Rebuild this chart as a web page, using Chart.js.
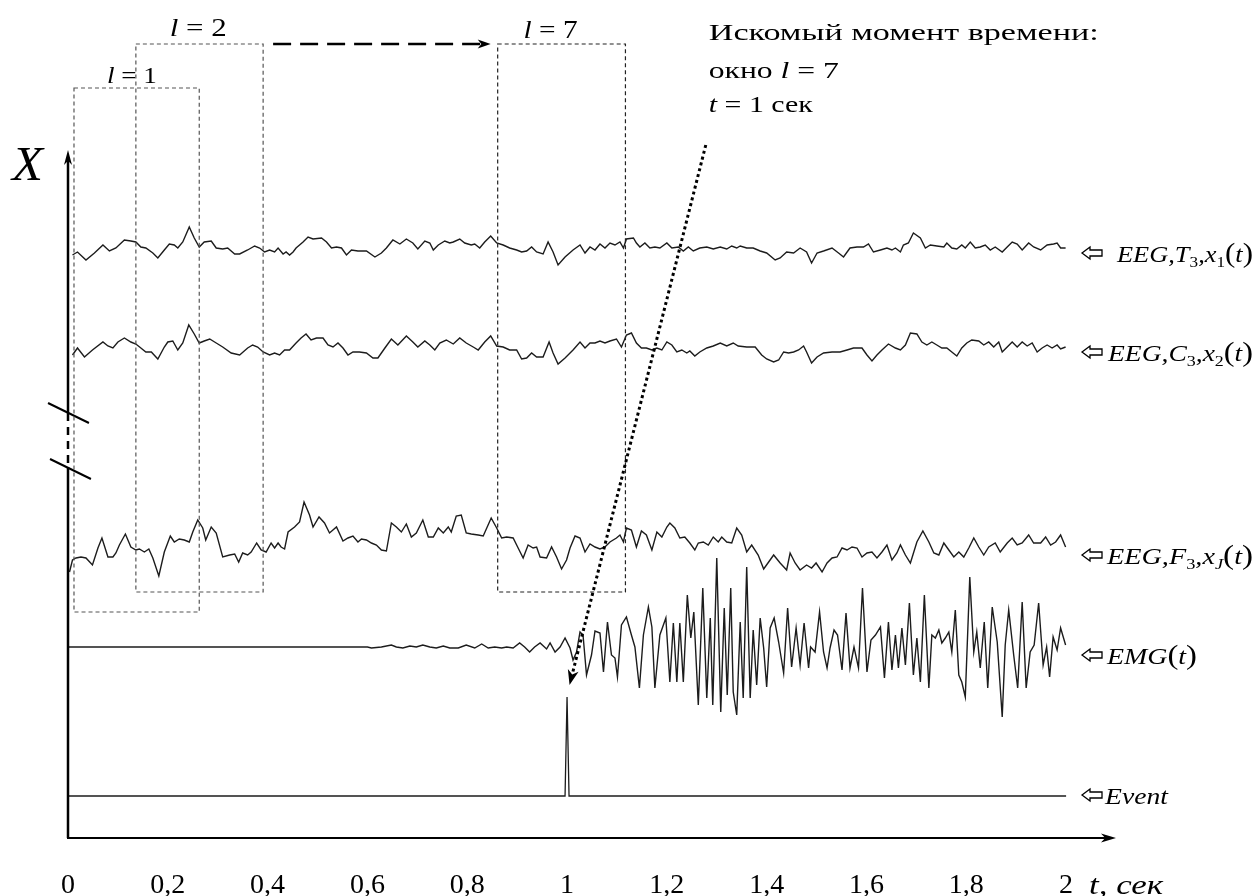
<!DOCTYPE html>
<html lang="ru">
<head>
<meta charset="utf-8">
<title>EEG / EMG</title>
<script src="https://cdn.jsdelivr.net/npm/chart.js@4/dist/chart.umd.min.js"></script>
<style>
html,body{margin:0;padding:0;background:#fff;overflow:hidden;}
canvas{display:block;}
</style>
</head>
<body>
<canvas id="chart" width="1258" height="896"></canvas>
<script>
// ---------------- data (time in s, amplitude in arbitrary units) ----------------
const xTickValues = [0, 0.2, 0.4, 0.6, 0.8, 1, 1.2, 1.4, 1.6, 1.8, 2];
const channelOffsets = [590, 490, 293, 191, 42]; // T3, C3, F3, EMG, Event

const eegT3 = [[0.009,-7],[0.019,-4],[0.036,-12],[0.053,-5],[0.070,3],[0.083,-3],[0.096,0],[0.113,8],[0.126,7],[0.136,6],[0.146,1],[0.156,0],[0.170,-5],[0.180,-10],[0.193,-2],[0.203,4],[0.213,3],[0.220,0],[0.230,6],[0.243,21],[0.253,10],[0.263,1],[0.273,6],[0.287,7],[0.297,0],[0.310,-1],[0.320,0],[0.334,-6],[0.344,-6],[0.360,-2],[0.374,2],[0.384,0],[0.394,-4],[0.404,-2],[0.414,-4],[0.421,0],[0.431,-6],[0.437,-4],[0.444,-7],[0.451,-4],[0.457,0],[0.464,3],[0.471,6],[0.481,11],[0.491,9],[0.508,10],[0.518,6],[0.528,0],[0.538,1],[0.548,0],[0.558,-7],[0.568,-2],[0.581,-3],[0.598,-3],[0.615,-9],[0.628,-5],[0.638,0],[0.651,8],[0.665,4],[0.678,9],[0.691,5],[0.701,-1],[0.715,7],[0.725,5],[0.732,-2],[0.742,3],[0.755,7],[0.765,5],[0.772,6],[0.785,9],[0.795,5],[0.808,3],[0.815,4],[0.825,0],[0.835,6],[0.847,12],[0.859,5],[0.872,3],[0.885,0],[0.899,-2],[0.909,-4],[0.919,-3],[0.929,1],[0.939,-4],[0.952,-6],[0.962,6],[0.972,-4],[0.982,-17],[0.996,-9],
[1.012,-2],[1.026,3],[1.036,-5],[1.046,1],[1.056,-2],[1.066,4],[1.076,0],[1.086,5],[1.096,3],[1.106,6],[1.113,0],[1.119,9],[1.133,10],[1.139,5],[1.146,1],[1.156,5],[1.166,0],[1.176,1],[1.186,0],[1.200,5],[1.210,0],[1.223,1],[1.233,-3],[1.243,1],[1.253,-3],[1.266,0],[1.280,1],[1.293,-1],[1.307,1],[1.320,-1],[1.330,2],[1.340,0],[1.347,2],[1.360,0],[1.373,0],[1.387,-3],[1.400,-5],[1.417,-12],[1.427,-10],[1.440,-4],[1.454,-5],[1.467,0],[1.480,-4],[1.490,-15],[1.501,-5],[1.514,-3],[1.531,0],[1.544,-5],[1.554,-9],[1.567,0],[1.581,1],[1.594,1],[1.604,4],[1.614,-4],[1.628,-2],[1.641,0],[1.651,-2],[1.658,0],[1.668,-4],[1.674,3],[1.684,5],[1.694,15],[1.708,10],[1.718,0],[1.728,3],[1.741,2],[1.755,1],[1.761,5],[1.771,0],[1.781,-1],[1.791,3],[1.798,0],[1.808,6],[1.818,0],[1.828,1],[1.838,3],[1.848,-2],[1.858,1],[1.872,-4],[1.882,1],[1.892,6],[1.902,4],[1.912,-2],[1.925,5],[1.935,1],[1.949,-2],[1.962,3],[1.975,4],[1.982,5],[1.989,0],[1.999,0]];

const eegC3 = [[0.009,-7],[0.019,0],[0.033,-9],[0.049,-2],[0.070,6],[0.080,2],[0.090,0],[0.100,6],[0.113,10],[0.126,6],[0.136,4],[0.146,0],[0.156,-4],[0.167,-4],[0.180,-11],[0.193,1],[0.200,6],[0.210,7],[0.220,-2],[0.230,5],[0.242,23],[0.253,14],[0.263,5],[0.273,7],[0.284,9],[0.297,5],[0.310,1],[0.327,-5],[0.344,-7],[0.360,0],[0.370,3],[0.380,1],[0.391,-4],[0.404,-7],[0.414,-5],[0.424,-7],[0.434,-2],[0.444,-2],[0.457,5],[0.467,10],[0.477,14],[0.487,8],[0.498,10],[0.511,10],[0.521,3],[0.531,1],[0.541,5],[0.551,0],[0.561,-7],[0.571,-4],[0.584,-4],[0.598,-5],[0.611,-10],[0.621,-10],[0.635,0],[0.648,9],[0.661,3],[0.678,12],[0.691,6],[0.701,1],[0.715,7],[0.725,3],[0.735,-2],[0.745,5],[0.758,8],[0.772,4],[0.785,10],[0.798,5],[0.812,1],[0.822,-2],[0.835,6],[0.847,12],[0.859,2],[0.872,1],[0.885,-2],[0.899,-2],[0.909,-11],[0.919,-10],[0.929,-5],[0.939,-9],[0.952,-9],[0.964,6],[0.972,-5],[0.982,-16],[0.996,-10],
[1.012,-2],[1.026,6],[1.036,0],[1.046,5],[1.056,5],[1.066,7],[1.076,5],[1.086,7],[1.099,9],[1.109,1],[1.119,13],[1.129,15],[1.139,5],[1.149,0],[1.159,0],[1.170,-2],[1.180,0],[1.190,-2],[1.200,6],[1.210,3],[1.220,-4],[1.230,-2],[1.240,-5],[1.246,-3],[1.256,-8],[1.266,-4],[1.280,0],[1.293,2],[1.307,5],[1.320,2],[1.333,5],[1.343,2],[1.360,1],[1.377,1],[1.390,-7],[1.400,-11],[1.414,-14],[1.424,-12],[1.434,-4],[1.444,-5],[1.454,-4],[1.464,-2],[1.474,2],[1.480,-4],[1.490,-15],[1.501,-9],[1.514,-5],[1.531,-4],[1.547,-4],[1.561,-2],[1.574,0],[1.591,0],[1.601,-7],[1.611,-13],[1.621,-7],[1.631,-2],[1.644,4],[1.658,0],[1.668,-2],[1.678,3],[1.688,15],[1.701,14],[1.711,6],[1.721,3],[1.731,6],[1.741,3],[1.751,0],[1.761,0],[1.771,-4],[1.781,-8],[1.791,0],[1.801,5],[1.811,8],[1.825,7],[1.835,3],[1.845,6],[1.855,1],[1.865,6],[1.872,-4],[1.882,1],[1.892,6],[1.902,1],[1.912,6],[1.922,2],[1.932,5],[1.942,-4],[1.952,0],[1.962,3],[1.972,0],[1.982,3],[1.989,-1],[1.999,1]];

const eegF3 = [[0.003,-27],[0.009,-15],[0.016,-13],[0.026,-12],[0.036,-13],[0.049,-20],[0.060,-3],[0.068,7],[0.080,-12],[0.090,-12],[0.096,-8],[0.103,0],[0.115,11],[0.126,-2],[0.136,-5],[0.143,-4],[0.153,-7],[0.162,-4],[0.170,-13],[0.182,-31],[0.193,-7],[0.205,9],[0.213,3],[0.223,6],[0.233,5],[0.243,3],[0.250,13],[0.260,25],[0.270,17],[0.276,5],[0.287,18],[0.297,12],[0.310,-12],[0.324,-10],[0.334,-9],[0.342,-17],[0.350,-8],[0.360,-10],[0.367,-7],[0.378,2],[0.387,-5],[0.397,-7],[0.407,2],[0.414,-3],[0.421,2],[0.427,-2],[0.434,-4],[0.441,13],[0.454,18],[0.464,23],[0.473,43],[0.484,30],[0.491,18],[0.503,28],[0.514,22],[0.524,12],[0.538,18],[0.551,4],[0.561,7],[0.571,9],[0.581,3],[0.588,6],[0.598,5],[0.608,2],[0.618,0],[0.628,-5],[0.638,-6],[0.648,22],[0.658,18],[0.668,13],[0.678,21],[0.688,8],[0.698,12],[0.711,25],[0.722,8],[0.732,8],[0.742,17],[0.752,12],[0.762,18],[0.768,13],[0.778,29],[0.788,30],[0.798,12],[0.808,11],[0.822,10],[0.832,9],[0.848,27],[0.859,17],[0.869,7],[0.879,8],[0.892,7],[0.902,-3],[0.912,-13],[0.922,0],[0.932,-3],[0.939,-2],[0.946,-12],[0.959,-13],[0.969,-2],[0.979,-12],[0.989,-24],[0.999,-15],
[1.006,-3],[1.016,9],[1.026,7],[1.036,-7],[1.046,1],[1.056,-2],[1.066,-4],[1.076,-2],[1.086,3],[1.099,7],[1.106,10],[1.113,3],[1.119,17],[1.129,15],[1.139,-2],[1.149,14],[1.159,10],[1.170,-5],[1.180,13],[1.190,8],[1.200,18],[1.206,22],[1.216,17],[1.226,7],[1.236,8],[1.246,2],[1.256,-5],[1.263,2],[1.273,3],[1.283,0],[1.293,8],[1.303,3],[1.310,8],[1.320,3],[1.330,2],[1.340,17],[1.350,10],[1.360,-7],[1.370,0],[1.383,-10],[1.394,-24],[1.404,-17],[1.414,-10],[1.427,-18],[1.440,-25],[1.447,-8],[1.457,-18],[1.467,-25],[1.480,-20],[1.490,-23],[1.499,-18],[1.511,-27],[1.521,-18],[1.531,-13],[1.541,-12],[1.551,-3],[1.561,-5],[1.571,-2],[1.581,-3],[1.591,-12],[1.601,-8],[1.611,-7],[1.621,-13],[1.631,-7],[1.641,0],[1.651,-15],[1.661,-8],[1.668,0],[1.678,-10],[1.688,-18],[1.701,3],[1.713,14],[1.725,3],[1.735,-8],[1.745,-10],[1.755,2],[1.765,-5],[1.775,-12],[1.785,-7],[1.795,-12],[1.805,-3],[1.815,7],[1.825,-2],[1.835,-10],[1.845,-2],[1.858,2],[1.868,-7],[1.882,2],[1.892,7],[1.902,0],[1.912,2],[1.925,10],[1.935,2],[1.949,2],[1.959,8],[1.969,0],[1.979,3],[1.989,10],[1.999,-2]];

const emg = [[0,0],[0.600,0],[0.608,-1],[0.628,0],[0.648,2],[0.658,0],[0.671,-1],[0.685,1],[0.698,0],[0.711,2],[0.725,0],[0.738,-1],[0.752,1],[0.765,-1],[0.782,-1],[0.798,2],[0.815,-1],[0.829,3],[0.842,-1],[0.855,0],[0.869,-1],[0.879,0],[0.892,-1],[0.905,4],[0.915,0],[0.925,-5],[0.935,0],[0.946,4],[0.959,-2],[0.966,4],[0.976,-5],[0.986,0],[0.996,9],
[1.006,-1],[1.012,-13],[1.019,-5],[1.026,15],[1.032,12],[1.039,-28],[1.049,-8],[1.056,16],[1.066,14],[1.073,-25],[1.081,25],[1.089,-8],[1.096,-11],[1.101,-30],[1.109,22],[1.119,30],[1.129,12],[1.136,0],[1.145,-41],[1.153,12],[1.163,40],[1.170,20],[1.176,-41],[1.186,12],[1.198,29],[1.206,-35],[1.213,24],[1.220,-35],[1.226,24],[1.233,-35],[1.241,52],[1.248,9],[1.254,35],[1.263,-58],[1.272,59],[1.280,-51],[1.287,29],[1.292,-58],[1.300,89],[1.308,-65],[1.315,39],[1.321,-48],[1.328,59],[1.333,-45],[1.340,-68],[1.347,25],[1.353,-51],[1.360,80],[1.367,-51],[1.373,17],[1.380,-38],[1.387,29],[1.394,-1],[1.400,-40],[1.407,19],[1.415,29],[1.424,5],[1.434,-26],[1.442,39],[1.450,-20],[1.459,19],[1.467,-18],[1.475,24],[1.484,-21],[1.488,0],[1.497,-5],[1.506,35],[1.514,-5],[1.521,-21],[1.527,-1],[1.535,17],[1.542,12],[1.551,-23],[1.559,34],[1.567,-21],[1.575,0],[1.584,-21],[1.592,59],[1.601,-25],[1.609,7],[1.618,12],[1.628,20],[1.636,-31],[1.644,25],[1.651,-23],[1.658,12],[1.664,-21],[1.671,19],[1.678,-18],[1.686,44],[1.694,-28],[1.701,9],[1.708,-35],[1.716,52],[1.725,-41],[1.731,12],[1.738,9],[1.745,17],[1.751,4],[1.758,9],[1.765,15],[1.771,-5],[1.778,37],[1.785,-28],[1.791,-35],[1.798,-50],[1.807,70],[1.815,-5],[1.821,15],[1.828,-21],[1.836,25],[1.843,-41],[1.852,40],[1.862,5],[1.872,-70],[1.878,2],[1.885,37],[1.895,-8],[1.903,-41],[1.912,45],[1.920,-41],[1.928,-5],[1.936,2],[1.945,44],[1.954,-18],[1.961,0],[1.967,-30],[1.974,10],[1.982,-3],[1.989,19],[1.999,2]];

const eventMarker = [[0,0],[0.996,0],[1.0,99],[1.004,0],[2.0,0]];

// ---------------- helpers ----------------
const SERIF = '"Liberation Serif","Times New Roman",Times,serif';
const F = (sz, it) => (it ? 'italic ' : '') + sz + 'px ' + SERIF;

function richText(ctx, x, y, segs, targetW, align) {
  let w = 0;
  for (const s of segs) { ctx.font = s.f; s.w = ctx.measureText(s.t).width; w += s.w; }
  const sx = targetW ? targetW / w : 1;
  ctx.save();
  ctx.translate(x, y);
  ctx.scale(sx, 1);
  let cx = align === 'center' ? -w / 2 : 0;
  ctx.textAlign = 'left'; ctx.textBaseline = 'alphabetic'; ctx.fillStyle = '#000';
  for (const s of segs) { ctx.font = s.f; ctx.fillText(s.t, cx, s.dy || 0); cx += s.w; }
  ctx.restore();
}
function head(ctx, x, y, ang, len, hw) {
  const c = Math.cos(ang), s = Math.sin(ang);
  const bx = x - len * c, by = y - len * s;
  ctx.beginPath();
  ctx.moveTo(x, y);
  ctx.lineTo(bx - hw * s, by + hw * c);
  ctx.lineTo(x - 0.72 * len * c, y - 0.72 * len * s);
  ctx.lineTo(bx + hw * s, by - hw * c);
  ctx.closePath();
  ctx.fill();
}
function seg(ctx, x0, y0, x1, y1) { ctx.beginPath(); ctx.moveTo(x0, y0); ctx.lineTo(x1, y1); ctx.stroke(); }
function hollowArrow(ctx, x, y) {
  ctx.save();
  ctx.lineWidth = 1.3; ctx.strokeStyle = '#000'; ctx.setLineDash([]);
  ctx.beginPath();
  ctx.moveTo(x, y); ctx.lineTo(x + 8, y - 6); ctx.lineTo(x + 8, y - 3);
  ctx.lineTo(x + 20, y - 3); ctx.lineTo(x + 20, y + 3); ctx.lineTo(x + 8, y + 3);
  ctx.lineTo(x + 8, y + 6); ctx.closePath(); ctx.stroke();
  ctx.restore();
}

// annotation geometry (data units: t in s, v on the y scale)
const ann = {
  axisEndT: 2.1, yTopV: 688, breakV: [371, 425],
  slashes: [[-0.040, 435, 0.042, 415], [-0.036, 379, 0.046, 359]],
  windows: [
    { n: '1', t0: 0.012, t1: 0.263, v0: 226, v1: 750, lt: 0.128, lv: 755, lw: 50, fs: 23, col: '#555' },
    { n: '2', t0: 0.136, t1: 0.391, v0: 246, v1: 794, lt: 0.261, lv: 802, lw: 57, fs: 26, col: '#555' },
    { n: '7', t0: 0.861, t1: 1.117, v0: 246, v1: 794, lt: 0.967, lv: 800, lw: 54, fs: 25, col: '#222' }
  ],
  shift: { t0: 0.411, t1: 0.847, v: 794 },
  pointer: { t0: 1.278, v0: 693, t1: 1.005, v1: 153 },
  noteT: 1.284, noteV: [798, 760, 726]
};

const overlay = {
  id: 'overlay',
  afterDraw(chart) {
    const ctx = chart.ctx, X = chart.scales.x, Y = chart.scales.y;
    const px = t => X.getPixelForValue(t), py = v => Y.getPixelForValue(v);
    ctx.save();
    ctx.strokeStyle = '#000'; ctx.fillStyle = '#000'; ctx.lineCap = 'butt';

    // x axis with arrow
    ctx.lineWidth = 2;
    seg(ctx, px(0) - 1, py(0), px(ann.axisEndT) - 8, py(0));
    head(ctx, px(ann.axisEndT), py(0), 0, 15, 4.5);

    // y axis with break and arrow
    const x0 = px(0);
    ctx.lineWidth = 2.5;
    seg(ctx, x0, py(0), x0, py(ann.breakV[0]));
    seg(ctx, x0, py(ann.breakV[1]), x0, py(ann.yTopV) + 8);
    head(ctx, x0, py(ann.yTopV), -Math.PI / 2, 15, 4);
    ctx.setLineDash([8, 6]);
    seg(ctx, x0, py(ann.breakV[1]), x0, py(ann.breakV[0]));
    ctx.setLineDash([]);
    ctx.lineWidth = 2;
    for (const s of ann.slashes) seg(ctx, px(s[0]), py(s[1]), px(s[2]), py(s[3]));

    // "X" axis label
    richText(ctx, 12, 180, [{ t: 'X', f: F(48, true) }], 31);

    // sliding windows
    for (const w of ann.windows) {
      ctx.save();
      ctx.strokeStyle = w.col; ctx.lineWidth = 1.2; ctx.setLineDash([4, 3]);
      ctx.strokeRect(px(w.t0), py(w.v1), px(w.t1) - px(w.t0), py(w.v0) - py(w.v1));
      ctx.restore();
      richText(ctx, px(w.lt), py(w.lv),
        [{ t: 'l', f: F(w.fs, true) }, { t: ' = ', f: F(w.fs) }, { t: w.n, f: F(w.fs) }], w.lw, 'center');
    }

    // dashed shift arrow l=2 -> l=7
    ctx.save();
    ctx.lineWidth = 2.5; ctx.setLineDash([18, 9]);
    seg(ctx, px(ann.shift.t0), py(ann.shift.v), px(ann.shift.t1) - 10, py(ann.shift.v));
    ctx.setLineDash([]);
    head(ctx, px(ann.shift.t1), py(ann.shift.v), 0, 13, 4.5);
    ctx.restore();

    // dotted pointer to the sought moment
    const p = ann.pointer;
    const xa = px(p.t0), ya = py(p.v0), xb = px(p.t1), yb = py(p.v1);
    const ang = Math.atan2(yb - ya, xb - xa);
    ctx.save();
    ctx.lineWidth = 3; ctx.setLineDash([3, 3]);
    seg(ctx, xa, ya, xb - 12 * Math.cos(ang), yb - 12 * Math.sin(ang));
    ctx.setLineDash([]);
    head(ctx, xb, yb, ang, 15, 5.5);
    ctx.restore();

    // note text
    const nx = px(ann.noteT);
    richText(ctx, nx, py(ann.noteV[0]), [{ t: 'Искомый момент времени:', f: F(24) }], 390);
    richText(ctx, nx, py(ann.noteV[1]), [{ t: 'окно ', f: F(24) }, { t: 'l', f: F(24, true) }, { t: ' = 7', f: F(24) }], 130);
    richText(ctx, nx, py(ann.noteV[2]), [{ t: 't', f: F(24, true) }, { t: ' = 1 сек', f: F(24) }], 104);

    // x axis title
    richText(ctx, 1089, 894, [{ t: 't', f: F(28, true) }, { t: ', сек', f: F(28, true) }], 74);

    // channel labels
    const fi = F(23, true), fs = F(15), fsi = F(15, true), fp = F(27);
    const labels = [
      { off: channelOffsets[0], d: -5, tx: 1117, w: 136, segs: [{ t: 'EEG,T', f: fi }, { t: '3', f: fs, dy: 5 }, { t: ',x', f: fi }, { t: '1', f: fs, dy: 5 }, { t: '(', f: fp }, { t: 't', f: fi }, { t: ')', f: fp }] },
      { off: channelOffsets[1], d: -4, tx: 1108, w: 145, segs: [{ t: 'EEG,C', f: fi }, { t: '3', f: fs, dy: 5 }, { t: ',x', f: fi }, { t: '2', f: fs, dy: 5 }, { t: '(', f: fp }, { t: 't', f: fi }, { t: ')', f: fp }] },
      { off: channelOffsets[2], d: -10, tx: 1107, w: 146, segs: [{ t: 'EEG,F', f: fi }, { t: '3', f: fs, dy: 5 }, { t: ',x', f: fi }, { t: 'J', f: fsi, dy: 5 }, { t: '(', f: fp }, { t: 't', f: fi }, { t: ')', f: fp }] },
      { off: channelOffsets[3], d: -8, tx: 1107, w: 90, segs: [{ t: 'EMG', f: fi }, { t: '(', f: fp }, { t: 't', f: fi }, { t: ')', f: fp }] },
      { off: channelOffsets[4], d: 1, tx: 1105, w: 63, segs: [{ t: 'Event', f: fi }] }
    ];
    for (const L of labels) {
      const ay = py(L.off + L.d);
      hollowArrow(ctx, 1082, ay);
      richText(ctx, L.tx, ay + 9, L.segs, L.w);
    }
    ctx.restore();
  }
};

// ---------------- chart ----------------
const toXY = (arr, off) => arr.map(p => ({ x: p[0], y: off + p[1] }));
const traceStyle = { borderColor: '#1c1c1c', borderWidth: 1.4, pointRadius: 0, tension: 0, fill: false };

new Chart(document.getElementById('chart'), {
  type: 'line',
  data: {
    datasets: [
      Object.assign({ label: 'EEG T3', data: toXY(eegT3, channelOffsets[0]) }, traceStyle),
      Object.assign({ label: 'EEG C3', data: toXY(eegC3, channelOffsets[1]) }, traceStyle),
      Object.assign({ label: 'EEG F3', data: toXY(eegF3, channelOffsets[2]) }, traceStyle),
      Object.assign({ label: 'EMG', data: toXY(emg, channelOffsets[3]) }, traceStyle),
      Object.assign({ label: 'Event', data: toXY(eventMarker, channelOffsets[4]) }, traceStyle, { borderWidth: 1.3 })
    ]
  },
  options: {
    responsive: false,
    animation: false,
    devicePixelRatio: 1,
    events: [],
    layout: { padding: { left: 68, right: 142, top: 0, bottom: 0 } },
    plugins: { legend: { display: false }, tooltip: { enabled: false } },
    scales: {
      x: {
        type: 'linear', position: 'bottom', min: 0, max: 2.1,
        grid: { display: false, drawTicks: false },
        border: { display: false },
        afterBuildTicks: s => { s.ticks = xTickValues.map(v => ({ value: v })); },
        afterFit: s => { s.height = 58; },
        ticks: {
          padding: 31, color: '#000', maxRotation: 0, autoSkip: false,
          font: { family: SERIF, size: 28 },
          callback: v => String(+(+v).toFixed(1)).replace('.', ',')
        }
      },
      y: { display: false, min: 0, max: 838 }
    }
  },
  plugins: [overlay]
});
</script>
</body>
</html>
